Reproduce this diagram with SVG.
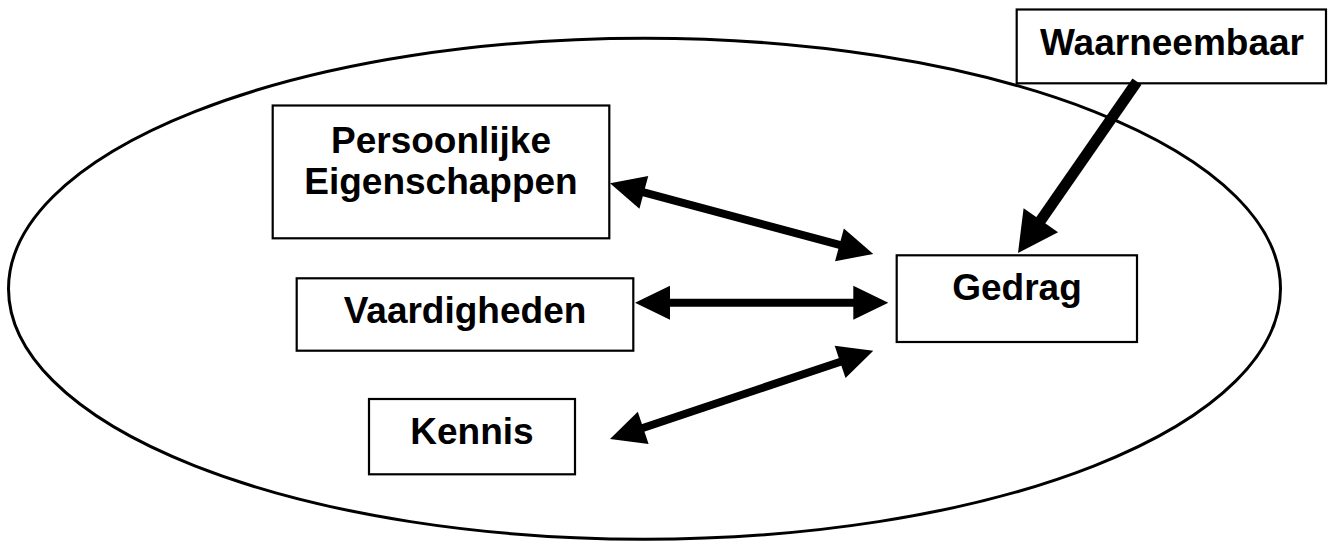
<svg xmlns="http://www.w3.org/2000/svg" width="1328" height="542" viewBox="0 0 1328 542">
  <style>
    .box { fill: #ffffff; stroke: #000000; stroke-width: 2.2; }
    .lbl { font-family: "Liberation Sans", Arial, sans-serif; font-weight: bold; font-size: 37px; fill: #000000; text-anchor: middle; }
    .conn { stroke: #000000; stroke-width: 8; fill: none; }
    .conn2 { stroke: #000000; stroke-width: 11; fill: none; }
  </style>
  <defs>
    <marker id="head" markerUnits="userSpaceOnUse" markerWidth="40" markerHeight="40" viewBox="0 -20 40 40" refX="2" refY="0" orient="auto-start-reverse" overflow="visible">
      <path d="M0,-17 L35,0 L0,17 Z" fill="#000000"/>
    </marker>
    <marker id="headBig" markerUnits="userSpaceOnUse" markerWidth="46" markerHeight="46" viewBox="0 -23 46 46" refX="2" refY="0" orient="auto" overflow="visible">
      <path d="M0,-21 L40,0 L0,21 Z" fill="#000000"/>
    </marker>
  </defs>
  <rect width="1328" height="542" fill="#ffffff"/>
  <g id="boundary">
    <ellipse cx="644.5" cy="288.7" rx="636" ry="250.5" fill="none" stroke="#000000" stroke-width="3"/>
  </g>
  <g id="node-persoonlijke">
    <rect class="box" x="272.7" y="105.5" width="336.6" height="132.8"/>
    <text class="lbl" x="441" y="152.5">Persoonlijke</text>
    <text class="lbl" x="441" y="194">Eigenschappen</text>
  </g>
  <g id="node-vaardigheden">
    <rect class="box" x="296.7" y="278.3" width="336.6" height="72.4"/>
    <text class="lbl" x="465" y="323.3">Vaardigheden</text>
  </g>
  <g id="node-kennis">
    <rect class="box" x="369" y="399" width="206" height="75.3"/>
    <text class="lbl" x="472" y="444">Kennis</text>
  </g>
  <g id="node-gedrag">
    <rect class="box" x="896.7" y="255.3" width="240.3" height="86.7"/>
    <text class="lbl" x="1017" y="300">Gedrag</text>
  </g>
  <g id="node-waarneembaar">
    <rect class="box" x="1016.7" y="9.5" width="309.3" height="73.8"/>
    <text class="lbl" x="1172" y="55">Waarneembaar</text>
  </g>
  <g id="connectors">
    <line class="conn" x1="641.9" y1="191.9" x2="841.4" y2="245.4" marker-start="url(#head)" marker-end="url(#head)"/>
    <line class="conn" x1="668" y1="302.7" x2="855.3" y2="302.7" marker-start="url(#head)" marker-end="url(#head)"/>
    <line class="conn" x1="641.3" y1="428.5" x2="842" y2="361.2" marker-start="url(#head)" marker-end="url(#head)"/>
    <line class="conn2" x1="1137" y1="81.7" x2="1039.7" y2="221.8" marker-end="url(#headBig)"/>
  </g>
</svg>
